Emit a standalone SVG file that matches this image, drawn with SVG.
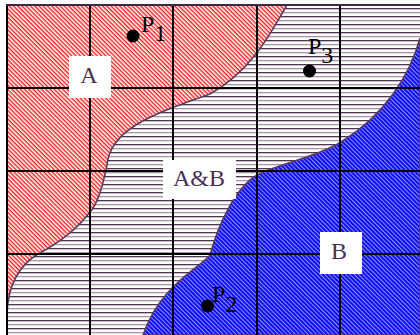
<svg xmlns="http://www.w3.org/2000/svg" width="420" height="335" viewBox="0 0 420 335">
<defs>
<pattern id="hatchA" patternUnits="userSpaceOnUse" width="6" height="3" patternTransform="rotate(45)">
<rect width="6" height="3" fill="#ffffff"/>
<rect y="0" width="6" height="1" fill="#f02020"/>
<rect y="1" width="6" height="1" fill="#ff9c9c"/>
</pattern>
<pattern id="hatchB" patternUnits="userSpaceOnUse" width="6" height="3" patternTransform="rotate(45)">
<rect width="6" height="3" fill="#1010f0"/>
<rect y="0" width="6" height="1" fill="#8c8cff"/>
</pattern>
<pattern id="hatchAB" patternUnits="userSpaceOnUse" width="8" height="8">
<rect width="8" height="8" fill="#ffffff"/>
<rect y="0" width="8" height="1.3" fill="#4f3254"/>
<rect y="4" width="8" height="1.3" fill="#a593a8"/>
</pattern>
<style>
.grid{stroke:#000;stroke-width:2;fill:none}
.edge{stroke:#5a3a5c;stroke-width:1.5}
.box{fill:#fff}
.lbl{font-family:"Liberation Serif","Times New Roman",serif;font-size:24px;fill:#4a3050;text-anchor:middle}
.pt{font-family:"Liberation Serif","Times New Roman",serif;font-size:24px;fill:#000}
</style>
</defs>
<g id="regions">
<rect id="regionAB" x="7" y="5" width="413" height="330" fill="url(#hatchAB)"/>
<path id="regionA" class="edge" fill="url(#hatchA)" d="M7,5 L287,5 C270,35 250,72 210,94 C150,115 110,130 107,165 C103,185 97,205 90,212 C75,232 55,245 38,254 C15,268 8,290 7,313 Z"/>
<path id="regionB" class="edge" fill="url(#hatchB)" d="M420,38 C410,75 385,115 341,142 C315,158 280,163 257,175 C235,188 218,225 210,255 C200,268 160,285 143,335 L420,335 Z"/>
</g>
<g id="grid">
<line class="grid" x1="7" y1="5" x2="7" y2="335"/>
<line class="grid" x1="90" y1="5" x2="90" y2="335"/>
<line class="grid" x1="173" y1="5" x2="173" y2="335"/>
<line class="grid" x1="257" y1="5" x2="257" y2="335"/>
<line class="grid" x1="340" y1="5" x2="340" y2="335"/>
<line class="grid" x1="7" y1="88" x2="420" y2="88"/>
<line class="grid" x1="7" y1="171" x2="420" y2="171"/>
<line class="grid" x1="7" y1="254" x2="420" y2="254"/>
<line x1="6" y1="5" x2="420" y2="5" stroke="#3d2a42" stroke-width="2"/>
</g>
<g id="labelA">
<rect class="box" x="69" y="56" width="42" height="42"/>
<text class="lbl" x="89" y="83">A</text>
</g>
<g id="labelAB">
<rect class="box" x="163" y="160" width="73" height="39"/>
<text class="lbl" x="199" y="186">A&amp;B</text>
</g>
<g id="labelB">
<rect class="box" x="320" y="232" width="42" height="42"/>
<text class="lbl" x="339" y="259">B</text>
</g>
<g id="P1">
<circle cx="133" cy="36" r="6.5" fill="#000"/>
<text class="pt" x="141" y="32">P<tspan dy="9">1</tspan></text>
</g>
<g id="P3">
<circle cx="309.5" cy="71" r="6.5" fill="#000"/>
<text class="pt" x="308" y="54">P<tspan dy="9">3</tspan></text>
</g>
<g id="P2">
<circle cx="207.5" cy="306" r="6.5" fill="#000"/>
<text class="pt" x="212" y="302">P<tspan dy="10">2</tspan></text>
</g>
</svg>
